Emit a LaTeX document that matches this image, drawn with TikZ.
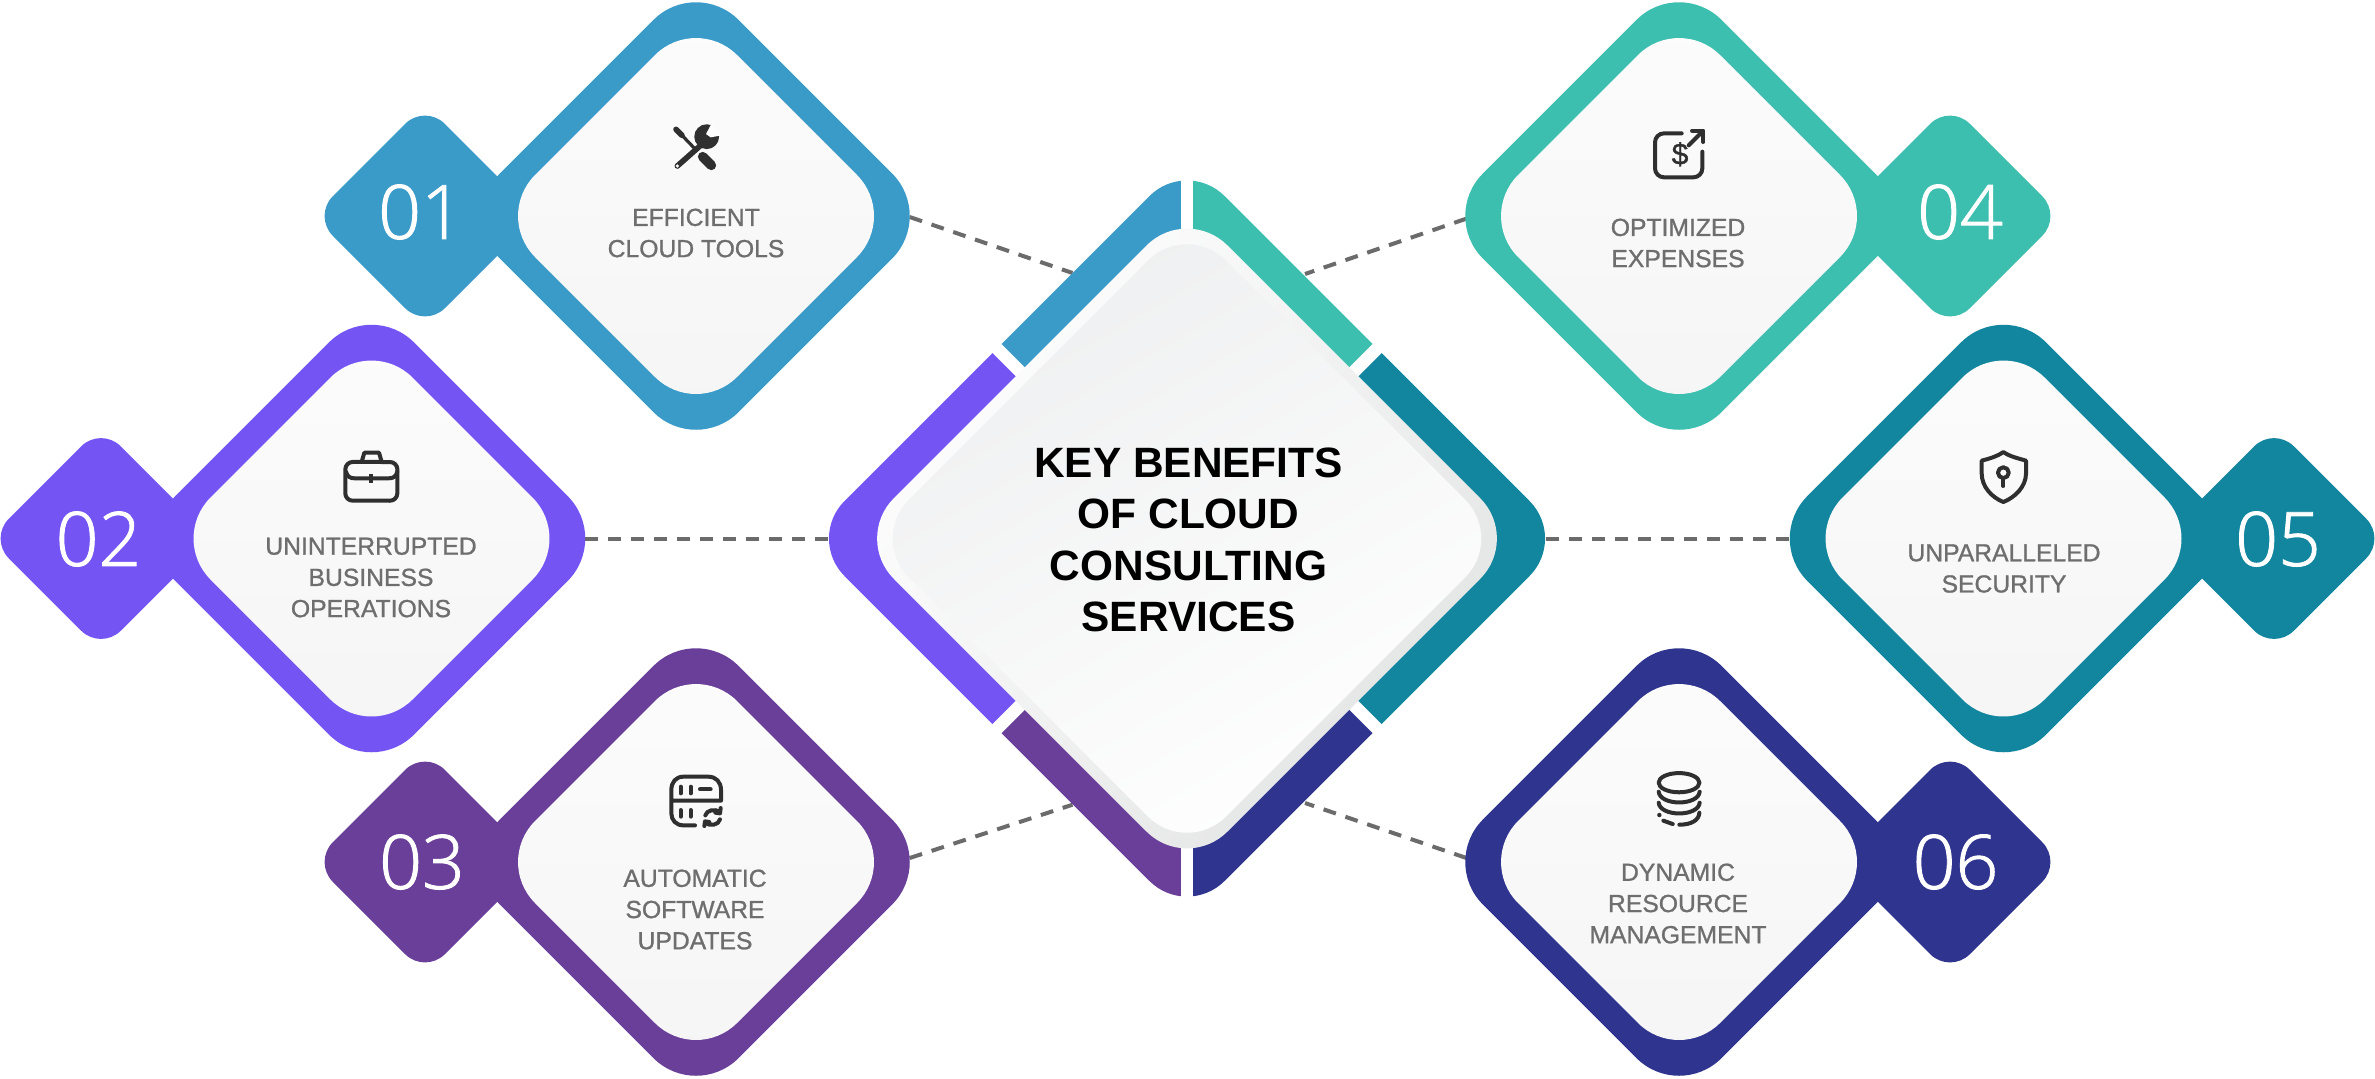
\documentclass[tikz,border=0pt]{standalone}
\usepackage{fontspec}
\usetikzlibrary{shapes.geometric,backgrounds,calc}
\setmainfont{Liberation Sans}
\newfontfamily\numfont[FakeBold=1.2]{Open Sans Light}
\newfontfamily\labfont[FakeBold=1.0]{Liberation Sans}
\definecolor{cA}{HTML}{3A9BC9}
\definecolor{cB}{HTML}{7455F4}
\definecolor{cC}{HTML}{6A3F9A}
\definecolor{cD}{HTML}{3DBFB0}
\definecolor{cE}{HTML}{12869E}
\definecolor{cF}{HTML}{2F358F}
\definecolor{dashc}{HTML}{6B6B6B}
\definecolor{labc}{HTML}{6E6E6E}
\definecolor{iconc}{HTML}{2F2F2F}
\definecolor{pantop}{HTML}{FCFCFC}
\definecolor{panbot}{HTML}{F5F5F6}
\definecolor{rimgray}{HTML}{E2E3E3}
\definecolor{hubgray}{HTML}{EEEFF0}
\tikzset{
  dia/.style={shape=diamond,aspect=1,inner sep=0pt,outer sep=0pt},
  ringshape/.style={dia,minimum width=238.6pt,minimum height=238.6pt,rounded corners=30pt,fill=#1},
  panelshape/.style={dia,minimum width=202pt,minimum height=202pt,rounded corners=29pt,top color=pantop,bottom color=panbot},
  tabshape/.style={dia,minimum width=112pt,minimum height=112pt,rounded corners=14pt,fill=#1},
  numtext/.style={text=white,font=\numfont\fontsize{37.5}{37.5}\selectfont,inner sep=0pt},
  labtext/.style={text=labc,align=center,inner sep=0pt,font=\labfont\fontsize{12.35}{15.6}\selectfont},
  linkline/.style={draw=dashc,line width=2pt,dash pattern=on 6.5pt off 5pt},
  ico/.style={draw=iconc,line width=2pt,line cap=round,line join=round,fill=none},
  icofill/.style={fill=iconc,draw=none},
  zoomed/.style={shift={(#1)},x=0.16667pt,y=-0.16667pt}
}
\begin{document}
\begin{tikzpicture}[x=0.5pt,y=-0.5pt]
\useasboundingbox (0,0) rectangle (2375,1078);
% tabs and rings
\node[tabshape=cA] (tab1) at (425,216) {};
\node[tabshape=cB] (tab2) at (101,538.5) {};
\node[tabshape=cC] (tab3) at (425,862) {};
\node[tabshape=cD] (tab4) at (1950,216) {};
\node[tabshape=cE] (tab5) at (2274,538.5) {};
\node[tabshape=cF] (tab6) at (1950,862) {};
\node[ringshape=cA] (ring1) at (696,216) {};
\node[ringshape=cB] (ring2) at (371.5,538.5) {};
\node[ringshape=cC] (ring3) at (696,862) {};
\node[ringshape=cD] (ring4) at (1679,216) {};
\node[ringshape=cE] (ring5) at (2003.5,538.5) {};
\node[ringshape=cF] (ring6) at (1679,862) {};
\node[panelshape] (pan1) at (696,216) {};
\node[panelshape] (pan2) at (371.5,538.5) {};
\node[panelshape] (pan3) at (696,862) {};
\node[panelshape] (pan4) at (1679,216) {};
\node[panelshape] (pan5) at (2003.5,538.5) {};
\node[panelshape] (pan6) at (1679,862) {};
% numbers
\node[numtext] (n1) at (421,212) {01};
\node[numtext] (n2) at (98.5,539) {02};
\node[numtext] (n3) at (422,862) {03};
\node[numtext] (n4) at (1960,212) {04};
\node[numtext] (n5) at (2278,539) {05};
\node[numtext] (n6) at (1955.5,862) {06};
% labels
\node[labtext] (lab1) at (696,233) {EFFICIENT\\CLOUD TOOLS};
\node[labtext] (lab2) at (371,577.5) {UNINTERRUPTED\\BUSINESS\\OPERATIONS};
\node[labtext] (lab3) at (695,909.5) {AUTOMATIC\\SOFTWARE\\UPDATES};
\node[labtext] (lab4) at (1678,243) {OPTIMIZED\\EXPENSES};
\node[labtext] (lab5) at (2004,568.5) {UNPARALLELED\\SECURITY};
\node[labtext] (lab6) at (1678,903.5) {DYNAMIC\\RESOURCE\\MANAGEMENT};
% hub segments
\coordinate (hc) at (1187,538.5);
\foreach \cc/\pa/\pb/\pc in {cA/{0,-500}/{-250,-500}/{-500,-500},cD/{0,-500}/{250,-500}/{500,-500},cB/{-500,-500}/{-1000,0}/{-500,500},cE/{500,-500}/{1000,0}/{500,500},cC/{-500,500}/{-250,500}/{0,500},cF/{500,500}/{250,500}/{0,500}}{
  \begin{scope}
    \clip ($(hc)$) -- ($(hc)+(\pa)$) -- ($(hc)+(\pb)$) -- ($(hc)+(\pc)$) -- cycle;
    \fill[\cc,rounded corners=26.5pt] ($(hc)+(-380,0)$) -- ($(hc)+(0,-380)$) -- ($(hc)+(380,0)$) -- ($(hc)+(0,380)$) -- cycle;
  \end{scope}
}
\foreach \a/\b in {0/-400,0/400,-200/-200,200/-200,-200/200,200/200}{
  \draw[white,line width=6.35pt] (hc) -- ($(hc)+(\a,\b)$);
}
\node[dia,minimum width=333.5pt,minimum height=333.5pt,rounded corners=28.5pt,top color=white,middle color=white,bottom color=rimgray,shading angle=50] (hubrim) at (hc) {};
\node[dia,minimum width=317pt,minimum height=317pt,rounded corners=27.5pt,top color=hubgray,middle color=white,bottom color=white,shading angle=30] (hub) at (hc) {};
\node[text=black,align=center,inner sep=0pt,font=\bfseries\fontsize{21.2}{25.7}\selectfont] (title) at (1188.5,540) {KEY BENEFITS\\OF CLOUD\\CONSULTING\\SERVICES};
% connectors, behind everything
\path (ring1.center) ++(213.7,1) coordinate (r1);
\path (ring2.center) ++(213.5,0) coordinate (r2);
\path (ring3.center) ++(213.7,-4) coordinate (r3);
\path (ring4.center) ++(-212.5,2.6) coordinate (r4);
\path (ring5.center) ++(-214.5,0) coordinate (r5);
\path (ring6.center) ++(-212.5,-4) coordinate (r6);
\path (hub.center) ++(-114.5,-265.5) coordinate (h1);
\path (hub.center) ++(-357,0) coordinate (h2);
\path (hub.center) ++(-114.5,266.2) coordinate (h3);
\path (hub.center) ++(118,-264.5) coordinate (h4);
\path (hub.center) ++(358,0) coordinate (h5);
\path (hub.center) ++(118,264.5) coordinate (h6);
\begin{scope}[on background layer]
\fill[white] (0,0) rectangle (2375,1078);
\draw[linkline] (r1) -- (h1);
\draw[linkline] (r2) -- (h2);
\draw[linkline] (r3) -- (h3);
\draw[linkline] (r4) -- (h4);
\draw[linkline] (r5) -- (h5);
\draw[linkline] (r6) -- (h6);
\end{scope}
% icon 1 tools
\begin{scope}[zoomed={640,110}]
\draw[iconc,line width=2.8pt,line cap=round] (108,58) -- (126,76);
\draw[iconc,line width=1.6pt] (126,76) -- (172,124);
\draw[iconc,line width=4.8pt,line cap=round] (188,140) -- (214,166);
\fill[iconc] (200,80) circle (6.2pt);
\fill[pantop] (198,72) -- (212,82) -- (245,76) -- (216,38) -- cycle;
\draw[iconc,line width=2.8pt,line cap=round] (182,106) -- (112,168);
\fill[pantop] (112,168) circle (0.9pt);
\end{scope}
% icon 4 expenses
\begin{scope}[zoomed={1630,110}]
\draw[ico] (155,70) -- (102,70) arc[start angle=90,end angle=180,radius=4.5pt] -- (75,175) arc[start angle=180,end angle=270,radius=4.5pt] -- (190,202) arc[start angle=270,end angle=360,radius=4.5pt] -- (217,125);
\draw[ico] (176,106) -- (218,64);
\draw[ico] (186,62) -- (220,62) -- (220,96);
\node[text=iconc,inner sep=0pt,font=\labfont\fontsize{15}{15}\selectfont] (dollar) at (150,133) {\$};
\end{scope}
% icon 2 briefcase
\begin{scope}[zoomed={320,440}]
\draw[ico] (76,88) arc[start angle=180,end angle=90,radius=3.7pt] -- (210,66) arc[start angle=90,end angle=0,radius=3.7pt] -- (232,160) arc[start angle=0,end angle=-90,radius=3.7pt] -- (98,182) arc[start angle=270,end angle=180,radius=3.7pt] -- cycle;
\draw[ico] (126,62) -- (133,38) -- (177,38) -- (184,62);
\draw[ico] (78,95) .. controls (82,110) and (90,115) .. (105,115) -- (205,115) .. controls (220,115) and (228,110) .. (232,95);
\fill[iconc] (147,102) rectangle (160,130);
\end{scope}
% icon 3 server sync
\begin{scope}[zoomed={640,760}]
\draw[ico] (165,196) -- (130,196) .. controls (108,196) and (94,180) .. (94,160) -- (94,90) .. controls (94,66) and (108,50) .. (130,50) -- (205,50) .. controls (228,50) and (243,66) .. (243,90) -- (243,122) -- (94,122);
\draw[ico] (122,80) -- (122,100) (152,80) -- (152,100) (180,88) -- (212,88) (122,150) -- (122,170) (152,150) -- (152,170);
\draw[ico] (196,166) .. controls (200,150) and (225,145) .. (240,156) (242,144) -- (240,160) -- (226,158);
\draw[ico] (240,178) .. controls (236,195) and (210,200) .. (195,188) (193,198) -- (195,184) -- (208,186);
\end{scope}
% icon 5 shield
\begin{scope}[zoomed={1950,440}]
\draw[ico] (160,36) .. controls (140,50) and (120,55) .. (95,62) -- (95,100) .. controls (95,140) and (125,172) .. (160,186) .. controls (195,172) and (228,140) .. (228,100) -- (228,62) .. controls (205,55) and (180,50) .. (160,36) -- cycle;
\draw[ico] (160,98) circle (2.7pt);
\draw[ico] (160,114) -- (160,138);
\end{scope}
% icon 6 database
\begin{scope}[zoomed={1630,770}]
\draw[ico] (147,38) ellipse [x radius=10.2pt,y radius=4.8pt];
\draw[ico] (86,65) .. controls (90,108) and (205,108) .. (209,65);
\draw[ico] (86,98) .. controls (90,141) and (205,141) .. (209,98);
\draw[ico] (100,152) -- (128,162);
\draw[ico] (148,164) .. controls (185,164) and (207,150) .. (208,128);
\fill[iconc] (88,135) circle (1.1pt);
\end{scope}
\end{tikzpicture}
\end{document}
